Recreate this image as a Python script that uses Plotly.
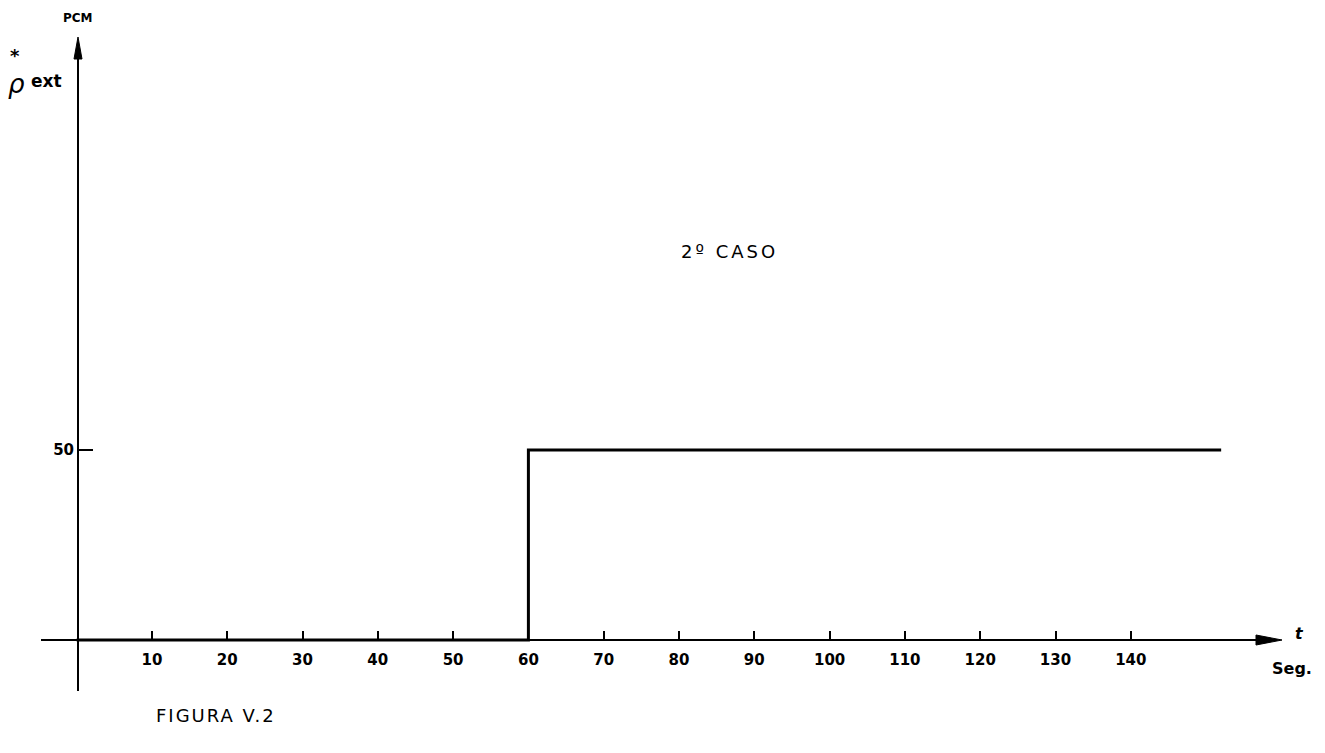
import plotly.graph_objects as go

# ---- data ----
t_values = [0, 60, 152]          # seconds
rho_values = [0, 50, 50]         # PCM
x_ticks = [10, 20, 30, 40, 50, 60, 70, 80, 90, 100, 110, 120, 130, 140]
y_ticks = [50]

W, H = 1325, 753
# pixel geometry of the drawing
x0_px, px_per_s = 76.6, 7.53
y0_px, px_per_pcm = 640.0, 3.8
xl_px, xr_px = 41, 1262
yb_px, yt_px = 691, 55

x_range = [(xl_px - x0_px) / px_per_s, (xr_px - x0_px) / px_per_s]
y_range = [(y0_px - yb_px) / px_per_pcm, (y0_px - yt_px) / px_per_pcm]

def px(x):
    return x / W

def py(y):
    return 1 - y / H

FONT = "DejaVu Sans"

fig = go.Figure()
fig.add_trace(go.Scatter(
    x=t_values, y=rho_values, mode="lines",
    line=dict(color="black", width=3, shape="hv"),
    hoverinfo="skip", showlegend=False,
))

fig.update_layout(
    width=W, height=H,
    margin=dict(l=0, r=0, t=0, b=0),
    paper_bgcolor="white", plot_bgcolor="white",
    xaxis=dict(
        domain=[px(xl_px), px(xr_px)], range=x_range,
        anchor="free", position=py(y0_px),
        showline=True, linecolor="black", linewidth=2,
        showgrid=False, zeroline=False,
        tickvals=x_ticks, ticktext=[f"<b>{v}</b>" for v in x_ticks],
        ticks="inside", ticklen=8, tickwidth=2, tickcolor="black",
        ticklabelstandoff=6,
        tickfont=dict(family=FONT, size=15, color="black"),
    ),
    yaxis=dict(
        domain=[py(yb_px), py(yt_px)], range=y_range,
        anchor="free", position=px(78),
        showline=True, linecolor="black", linewidth=2,
        showgrid=False, zeroline=False,
        tickvals=y_ticks, ticktext=[f"<b>{v}</b>" for v in y_ticks],
        ticks="inside", ticklen=14, tickwidth=2, tickcolor="black",
        tickfont=dict(family=FONT, size=15, color="black"),
    ),
    font=dict(family=FONT, color="black"),
)

# arrow heads on axes
fig.add_shape(type="path", xref="paper", yref="paper",
              xsizemode="pixel", ysizemode="pixel",
              xanchor=px(1282), yanchor=py(y0_px),
              path="M 0 0 L -26 5 L -26 -5 Z",
              fillcolor="black", line=dict(color="black", width=1))
fig.add_shape(type="path", xref="paper", yref="paper",
              xsizemode="pixel", ysizemode="pixel",
              xanchor=px(78), yanchor=py(37),
              path="M 0 0 L -4 -22 L 4 -22 Z",
              fillcolor="black", line=dict(color="black", width=1))

def note(text, x, y, size, **kw):
    fig.add_annotation(text=text, x=px(x), y=py(y), xref="paper", yref="paper",
                       showarrow=False, xanchor=kw.pop("xanchor", "center"),
                       yanchor="middle", font=dict(family=FONT, size=size, color="black"),
                       **kw)

note("<b>PCM</b>", 78, 18, 12)
note("<b>*</b>", 15, 55, 18)
note("<i>ρ</i>", 16, 84, 26)
note("<b>ext</b>", 46, 81, 17)
note('<span style="letter-spacing:3px">2º CASO</span>', 729, 252, 18)
note("<b><i>t</i></b>", 1299, 633, 16)
note("<b>Seg.</b>", 1292, 668, 16)
note('<span style="letter-spacing:2px">FIGURA V.2</span>', 216, 715, 18)

fig.write_html("out.html")
